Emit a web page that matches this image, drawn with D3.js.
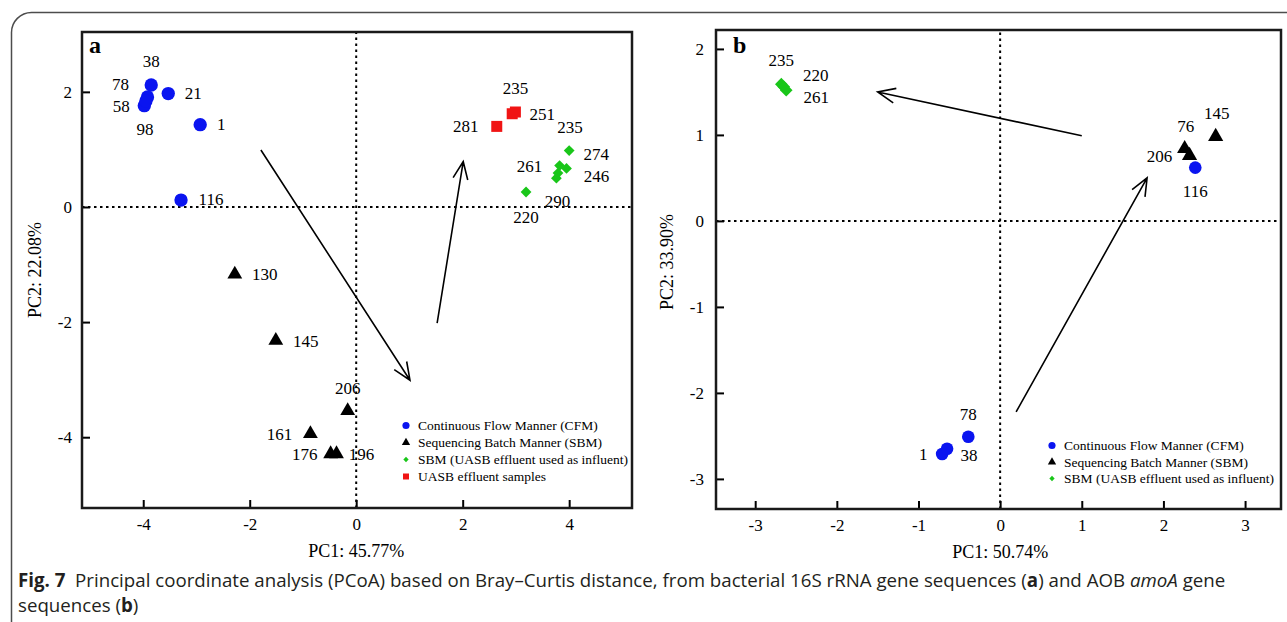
<!DOCTYPE html>
<html>
<head>
<meta charset="utf-8">
<script src="https://cdn.jsdelivr.net/npm/d3@7"></script>
<style>
  html, body { margin: 0; padding: 0; background: #fff; }
  svg { display: block; }
</style>
</head>
<body>
<script>
// ---- data, panel a (16S rRNA) ----
var cfmIdsA = ['38', '78', '58', '98', '21', '1', '116'];
var cfmPc1A = [-3.85, -3.92, -3.98, -3.95, -3.53, -2.93, -3.29];
var cfmPc2A = [2.12, 1.91, 1.76, 1.84, 1.97, 1.43, 0.12];

var sbmIdsA = ['130', '145', '206', '161', '176', '196'];
var sbmPc1A = [-2.28, -1.51, -0.16, -0.86, -0.48, -0.37];
var sbmPc2A = [-1.17, -2.32, -3.54, -3.94, -4.29, -4.29];

var infIdsA = ['274', '246', '261', '235', '290', '220'];
var infPc1A = [4.0, 3.95, 3.82, 3.79, 3.76, 3.19];
var infPc2A = [0.98, 0.67, 0.72, 0.59, 0.5, 0.26];

var effIdsA = ['281', '235', '251'];
var effPc1A = [2.64, 2.99, 2.93];
var effPc2A = [1.40, 1.65, 1.62];

var arrowFromA = [[-1.79, 0.99], [1.52, -2.02]];
var arrowToA = [[1.01, -3.01], [2.01, 0.79]];

var xTicksA = [-4, -2, 0, 2, 4];
var yTicksA = [-4, -2, 0, 2];

// ---- data, panel b (AOB amoA) ----
var cfmIdsB = ['116', '78', '1', '38'];
var cfmPc1B = [2.39, -0.39, -0.71, -0.65];
var cfmPc2B = [0.62, -2.51, -2.71, -2.65];

var sbmIdsB = ['145', '76', '206'];
var sbmPc1B = [2.64, 2.26, 2.32];
var sbmPc2B = [0.98, 0.84, 0.76];

var infIdsB = ['235', '220', '261'];
var infPc1B = [-2.68, -2.65, -2.62];
var infPc2B = [1.59, 1.56, 1.52];

var arrowFromB = [[1.0, 0.99], [0.196, -2.22]];
var arrowToB = [[-1.50, 1.50], [1.80, 0.50]];

var xTicksB = [-3, -2, -1, 0, 1, 2, 3];
var yTicksB = [-3, -2, -1, 0, 1, 2];

var legendNames = ['Continuous Flow Manner (CFM)', 'Sequencing Batch Manner (SBM)',
                   'SBM (UASB effluent used as influent)', 'UASB effluent samples'];

// label nudges in px (layout only)
var nudgeCfmA = [[0, -18], [-27, -7], [-23, 6], [-1, 34], [25, 5], [21, 5], [30, 5]];
var nudgeSbmA = [[30, 6], [30, 6], [0, -17], [-31, 6], [-26, 6], [25, 6]];
var nudgeInfA = [[27, 9], [30, 14], [-30, 6], [12, -40], [1, 29], [0, 31]];
var nudgeEffA = [[-31, 6], [0, -18], [30, 6]];
var nudgeCfmB = [[0, 29], [0, -17], [-19, 6], [22, 12]];
var nudgeSbmB = [[1, -18], [1, -17], [-30, 6]];
var nudgeInfB = [[0, -18], [32, -6], [30, 13]];

var serif = '"Liberation Serif", "Times New Roman", serif';
var W = 1287, H = 622;

var svg = d3.select('body').append('svg')
    .attr('width', W)
    .attr('height', H);

// figure frame (rounded top-left corner)
svg.append('rect')
    .attr('x', 11.5).attr('y', 12.5)
    .attr('width', 1400).attr('height', 700)
    .attr('rx', 20)
    .style('fill', 'none')
    .style('stroke', '#4d4d4d')
    .style('stroke-width', 1.5);

var BLUE = '#0a14f0', BLACK = '#000', GREEN = '#19c619', RED = '#f01414';

function zip(ids, a, b, nudge) {
    return ids.map(function(d, i) {
        return { id: d, x: a[i], y: b[i], dx: nudge[i][0], dy: nudge[i][1] };
    });
}

var drawPanel = function(cfg) {
    var x = d3.scaleLinear().domain(cfg.xDomain).range(cfg.xRange);
    var y = d3.scaleLinear().domain(cfg.yDomain).range(cfg.yRange);
    var g = svg.append('g');

    // dotted zero lines
    g.append('line')
        .attr('x1', x(0)).attr('x2', x(0))
        .attr('y1', cfg.yRange[0]).attr('y2', cfg.yRange[1])
        .style('stroke', '#000').style('stroke-width', 2)
        .style('stroke-dasharray', '2.5,3.5');
    g.append('line')
        .attr('x1', cfg.xRange[0]).attr('x2', cfg.xRange[1])
        .attr('y1', y(0)).attr('y2', y(0))
        .style('stroke', '#000').style('stroke-width', 2)
        .style('stroke-dasharray', '2.5,3.5');

    // axes, ticks pointing inward
    var gx = g.append('g')
        .attr('transform', 'translate(0,' + cfg.yRange[0] + ')')
        .call(d3.axisBottom(x).tickValues(cfg.xTicks).tickSize(-8).tickPadding(10)
            .tickFormat(d3.format('d')));
    var gy = g.append('g')
        .attr('transform', 'translate(' + cfg.xRange[0] + ',0)')
        .call(d3.axisLeft(y).tickValues(cfg.yTicks).tickSize(-8).tickPadding(cfg.yPad)
            .tickFormat(d3.format('d')));
    [gx, gy].forEach(function(a) {
        a.select('.domain').remove();
        a.selectAll('line').style('stroke', '#000').style('stroke-width', 2);
        a.selectAll('text')
            .style('font-family', serif)
            .style('font-size', '17px')
            .style('fill', '#000')
            .text(function(d) { return d < 0 ? '-' + Math.abs(d) : d; });
    });

    // box
    g.append('rect')
        .attr('x', cfg.xRange[0]).attr('y', cfg.yRange[1])
        .attr('width', cfg.xRange[1] - cfg.xRange[0])
        .attr('height', cfg.yRange[0] - cfg.yRange[1])
        .style('fill', 'none')
        .style('stroke', '#1a1a1a')
        .style('stroke-width', 2.5);

    // arrows
    cfg.arrowFrom.forEach(function(f, i) {
        var t = cfg.arrowTo[i];
        var x1 = x(f[0]), y1 = y(f[1]), x2 = x(t[0]), y2 = y(t[1]);
        var ang = Math.atan2(y2 - y1, x2 - x1);
        var L = 19, spread = 0.4;
        var p = 'M' + x1 + ',' + y1 + 'L' + x2 + ',' + y2 +
            'M' + (x2 - L * Math.cos(ang - spread)) + ',' + (y2 - L * Math.sin(ang - spread)) +
            'L' + x2 + ',' + y2 +
            'L' + (x2 - L * Math.cos(ang + spread)) + ',' + (y2 - L * Math.sin(ang + spread));
        g.append('path').attr('d', p)
            .style('fill', 'none').style('stroke', '#000').style('stroke-width', 1.6);
    });

    // points + labels
    cfg.series.forEach(function(s) {
        var sym = d3.symbol().type(s.type).size(s.size);
        g.append('g').selectAll('path')
            .data(s.data)
            .enter()
            .append('path')
            .attr('d', sym)
            .attr('transform', function(d) {
                return 'translate(' + x(d.x) + ',' + y(d.y) + ') rotate(' + (s.rotate || 0) + ')';
            })
            .style('fill', s.color);
        g.append('g').selectAll('text')
            .data(s.data)
            .enter()
            .append('text')
            .attr('x', function(d) { return x(d.x) + d.dx; })
            .attr('y', function(d) { return y(d.y) + d.dy; })
            .attr('text-anchor', 'middle')
            .style('font-family', serif)
            .style('font-size', '17px')
            .style('fill', '#000')
            .text(function(d) { return d.id; });
    });

    // legend
    var lg = g.append('g');
    cfg.legend.forEach(function(e, i) {
        var ly = cfg.legendY + i * cfg.legendStep;
        lg.append('path')
            .attr('d', d3.symbol().type(e.type).size(e.size))
            .attr('transform', 'translate(' + cfg.legendX + ',' + ly + ') rotate(' + (e.rotate || 0) + ')')
            .style('fill', e.color);
        lg.append('text')
            .attr('x', cfg.legendX + 12)
            .attr('y', ly + 4.5)
            .style('font-family', serif)
            .style('font-size', '13.5px')
            .style('fill', '#000')
            .text(e.name);
    });

    // panel letter
    g.append('text')
        .attr('x', cfg.letterPos[0]).attr('y', cfg.letterPos[1])
        .style('font-family', serif)
        .style('font-weight', 'bold')
        .style('font-size', '24px')
        .text(cfg.letter);

    // axis titles
    g.append('text')
        .attr('x', x(0)).attr('y', cfg.xTitleY)
        .attr('text-anchor', 'middle')
        .style('font-family', serif)
        .style('font-size', '18px')
        .text(cfg.xTitle);
    g.append('text')
        .attr('transform', 'translate(' + cfg.yTitlePos[0] + ',' + cfg.yTitlePos[1] + ') rotate(-90)')
        .attr('text-anchor', 'middle')
        .style('font-family', serif)
        .style('font-size', '18px')
        .text(cfg.yTitle);
};

drawPanel({
    xDomain: [-5.15, 5.18], xRange: [82, 632],
    yDomain: [-5.23, 3.04], yRange: [508, 32],
    xTicks: xTicksA, yTicks: yTicksA, yPad: 10,
    arrowFrom: arrowFromA, arrowTo: arrowToA,
    series: [
        { data: zip(infIdsA, infPc1A, infPc2A, nudgeInfA), type: d3.symbolSquare, size: 58, rotate: 45, color: GREEN },
        { data: zip(effIdsA, effPc1A, effPc2A, nudgeEffA), type: d3.symbolSquare, size: 121, color: RED },
        { data: zip(sbmIdsA, sbmPc1A, sbmPc2A, nudgeSbmA), type: d3.symbolTriangle, size: 95, color: BLACK },
        { data: zip(cfmIdsA, cfmPc1A, cfmPc2A, nudgeCfmA), type: d3.symbolCircle, size: 140, color: BLUE }
    ],
    legend: [
        { name: legendNames[0], type: d3.symbolCircle, size: 40, color: BLUE },
        { name: legendNames[1], type: d3.symbolTriangle, size: 30, color: BLACK },
        { name: legendNames[2], type: d3.symbolSquare, size: 14, rotate: 45, color: GREEN },
        { name: legendNames[3], type: d3.symbolSquare, size: 36, color: RED }
    ],
    legendX: 406, legendY: 425.5, legendStep: 17,
    letter: 'a', letterPos: [89, 53],
    xTitle: 'PC1: 45.77%', xTitleY: 557,
    yTitle: 'PC2: 22.08%', yTitlePos: [41, 270]
});

drawPanel({
    xDomain: [-3.48, 3.44], xRange: [716, 1281],
    yDomain: [-3.35, 2.22], yRange: [509, 30],
    xTicks: xTicksB, yTicks: yTicksB, yPad: 12,
    arrowFrom: arrowFromB, arrowTo: arrowToB,
    series: [
        { data: zip(infIdsB, infPc1B, infPc2B, nudgeInfB), type: d3.symbolSquare, size: 80, rotate: 45, color: GREEN },
        { data: zip(sbmIdsB, sbmPc1B, sbmPc2B, nudgeSbmB), type: d3.symbolTriangle, size: 100, color: BLACK },
        { data: zip(cfmIdsB, cfmPc1B, cfmPc2B, nudgeCfmB), type: d3.symbolCircle, size: 125, color: BLUE }
    ],
    legend: [
        { name: legendNames[0], type: d3.symbolCircle, size: 40, color: BLUE },
        { name: legendNames[1], type: d3.symbolTriangle, size: 30, color: BLACK },
        { name: legendNames[2], type: d3.symbolSquare, size: 14, rotate: 45, color: GREEN }
    ],
    legendX: 1052, legendY: 445.5, legendStep: 16.5,
    letter: 'b', letterPos: [733, 53],
    xTitle: 'PC1: 50.74%', xTitleY: 558,
    yTitle: 'PC2: 33.90%', yTitlePos: [673, 262]
});

// caption
var cap = svg.append('g')
    .style('font-family', '"Open Sans", "Noto Sans", sans-serif')
    .style('fill', '#231f20');
var line1 = cap.append('text').attr('x', 18).attr('y', 587);
line1.append('tspan').style('font-weight', 'bold').text('Fig. 7');
line1.append('tspan').text('\u00a0\u00a0Principal coordinate analysis (PCoA) based on Bray\u2013Curtis distance, from bacterial 16S rRNA gene sequences (');
line1.append('tspan').style('font-weight', 'bold').text('a');
line1.append('tspan').text(') and AOB ');
line1.append('tspan').style('font-style', 'italic').text('amoA');
line1.append('tspan').text(' gene');
var line2 = cap.append('text').attr('x', 18).attr('y', 612);
line2.append('tspan').text('sequences (');
line2.append('tspan').style('font-weight', 'bold').text('b');
line2.append('tspan').text(')');

// fit caption font to the original line width
cap.style('font-size', '16px');
var w1 = line1.node().getComputedTextLength();
cap.style('font-size', (16 * 1208 / w1).toFixed(2) + 'px');
</script>
</body>
</html>
